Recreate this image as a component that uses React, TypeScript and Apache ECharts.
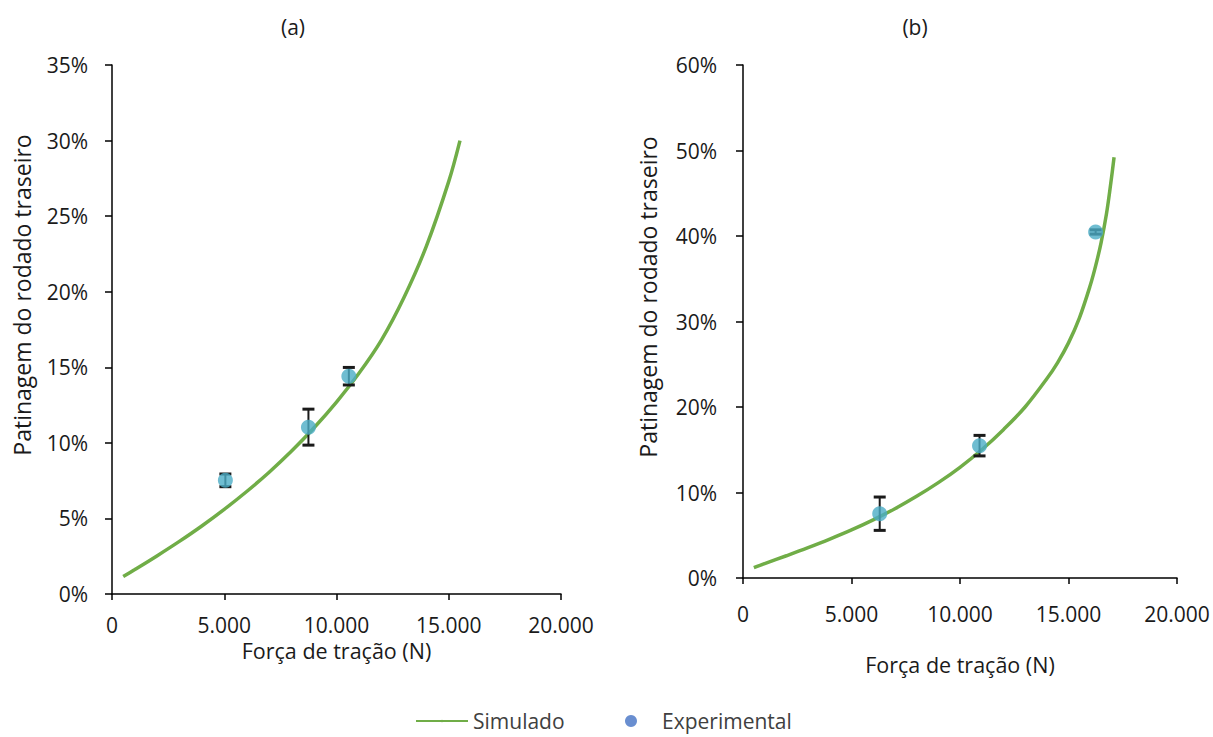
import React, { useEffect, useRef } from "react";
import * as echarts from "echarts";

// Panel (a)
const simXA = [500, 1000, 2000, 3000, 4000, 5000, 6000, 7000, 8000, 9000, 10000, 11000, 12000, 13000, 14000, 15000, 15500];
const simYA = [1.15, 1.6, 2.52, 3.48, 4.5, 5.6, 6.78, 8.06, 9.46, 11.0, 12.7, 14.6, 16.8, 19.6, 23.0, 27.3, 30.0];
const expXA = [5050, 8750, 10550];
const expYA = [7.52, 11.04, 14.41];
const errA = [0.42, 1.19, 0.58];

// Panel (b)
const simXB = [500, 1000, 2000, 3000, 4000, 5000, 6000, 7000, 8000, 9000, 10000, 11000, 12000, 13000, 14000, 14500, 15000, 15500, 16000, 16250, 16500, 16750, 16950, 17100];
const simYB = [1.2, 1.68, 2.6, 3.55, 4.55, 5.62, 6.8, 8.1, 9.55, 11.15, 12.95, 15.0, 17.35, 20.0, 23.3, 25.2, 27.5, 30.4, 34.2, 36.5, 39.2, 42.6, 46.2, 49.2];
const expXB = [6300, 10900, 16250];
const expYB = [7.52, 15.48, 40.47];
const errB = [1.95, 1.2, 0.25];

const FONT = "Open Sans";
const FS = 21;
const TXT = "#1a1a1a";
const GREEN = "#70AD47";
const MARK = "#4BACC6";
const LEGEND_MARK = "#4472C4";
const Y_TITLE = "Patinagem do rodado traseiro";

const fmtX = (v: number) => (v === 0 ? "0" : v.toLocaleString("de-DE"));

function makeErr(xs: number[], ys: number[], es: number[]) {
  return xs.map((x, i) => [x, ys[i] - es[i], ys[i] + es[i]]);
}

function errRender(params: any, api: any) {
  const x = api.value(0);
  const lo = api.coord([x, api.value(1)]);
  const hi = api.coord([x, api.value(2)]);
  const hw = 6;
  const st = { stroke: "#1a1a1a", lineWidth: 2 };
  const cap = { stroke: "#1a1a1a", lineWidth: 3 };
  return {
    type: "group",
    children: [
      { type: "line", shape: { x1: lo[0], y1: lo[1], x2: hi[0], y2: hi[1] }, style: st },
      { type: "line", shape: { x1: lo[0] - hw, y1: lo[1], x2: lo[0] + hw, y2: lo[1] }, style: cap },
      { type: "line", shape: { x1: hi[0] - hw, y1: hi[1], x2: hi[0] + hw, y2: hi[1] }, style: cap },
    ],
  };
}

function xAxisCfg(gridIndex: number, nameGap: number, labelMargin: number) {
  return {
    type: "value",
    gridIndex,
    min: 0,
    max: 20000,
    interval: 5000,
    name: "Força de tração (N)",
    nameLocation: "middle",
    nameGap,
    nameTextStyle: { fontFamily: FONT, fontSize: 21.5, color: TXT },
    axisLine: { show: true, lineStyle: { color: "#000", width: 1.5 } },
    axisTick: { show: true, inside: false, length: 6, lineStyle: { color: "#000", width: 1.5 } },
    axisLabel: { formatter: fmtX, fontFamily: FONT, fontSize: FS, color: TXT, margin: labelMargin },
    splitLine: { show: false },
  };
}

function yAxisCfg(gridIndex: number, max: number, interval: number, labelMargin: number) {
  return {
    type: "value",
    gridIndex,
    min: 0,
    max,
    interval,
    axisLine: { show: true, lineStyle: { color: "#000", width: 1.5 } },
    axisTick: { show: true, inside: false, length: 7, lineStyle: { color: "#000", width: 1.5 } },
    axisLabel: { formatter: (v: number) => `${v}%`, fontFamily: FONT, fontSize: FS, color: TXT, margin: labelMargin },
    splitLine: { show: false },
  };
}

function lineSeries(idx: number, data: number[][]) {
  return {
    name: "Simulado",
    type: "line",
    xAxisIndex: idx,
    yAxisIndex: idx,
    data,
    smooth: 0.35,
    symbol: "none",
    lineStyle: { color: GREEN, width: 3.5 },
    itemStyle: { color: GREEN },
    z: 1,
  };
}

function yTitle(x: number, y: number) {
  return {
    type: "text",
    x,
    y,
    rotation: Math.PI / 2,
    style: { text: Y_TITLE, font: `23px "${FONT}"`, fill: TXT, textAlign: "center", textVerticalAlign: "middle" },
  };
}

export default function App() {
  const ref = useRef<HTMLDivElement>(null);
  useEffect(() => {
    if (!ref.current) return;
    const chart = echarts.init(ref.current, undefined, { renderer: "svg" });
    const simA = simXA.map((x, i) => [x, simYA[i]]);
    const simB = simXB.map((x, i) => [x, simYB[i]]);
    const ptsA = expXA.map((x, i) => [x, expYA[i]]);
    const ptsB = expXB.map((x, i) => [x, expYB[i]]);
    chart.setOption({
      animation: false,
      backgroundColor: "#fff",
      textStyle: { fontFamily: FONT },
      grid: [
        { left: 112, top: 65, width: 449, height: 529 },
        { left: 743, top: 65, width: 434, height: 513 },
      ],
      xAxis: [xAxisCfg(0, 30, 20), xAxisCfg(1, 75, 25)],
      yAxis: [yAxisCfg(0, 35, 5, 24), yAxisCfg(1, 60, 10, 26)],
      graphic: [
        { type: "text", x: 293, y: 27, style: { text: "(a)", font: `${FS}px "${FONT}"`, fill: TXT, textAlign: "center", textVerticalAlign: "middle" } },
        { type: "text", x: 915, y: 27, style: { text: "(b)", font: `${FS}px "${FONT}"`, fill: TXT, textAlign: "center", textVerticalAlign: "middle" } },
        yTitle(22, 295),
        yTitle(648, 297),
      ],
      legend: [
        {
          data: ["Simulado"],
          left: 410,
          top: 705,
          itemWidth: 52,
          itemHeight: 3,
          itemGap: 0,
          textStyle: { fontFamily: FONT, fontSize: 21, lineHeight: 22, color: "#404040" },
        },
        {
          data: [{ name: "Experimental", icon: "circle", itemStyle: { color: LEGEND_MARK } }],
          left: 620,
          top: 705,
          itemWidth: 12,
          itemHeight: 12,
          itemGap: 0,
          textStyle: { fontFamily: FONT, fontSize: 21, lineHeight: 22, color: "#404040", padding: [0, 0, 0, 20] },
        },
      ],
      series: [
        lineSeries(0, simA),
        lineSeries(1, simB),
        {
          name: "errA",
          type: "custom",
          xAxisIndex: 0,
          yAxisIndex: 0,
          data: makeErr(expXA, expYA, errA),
          renderItem: errRender,
          encode: { x: 0, y: [1, 2] },
          z: 2,
        },
        {
          name: "errB",
          type: "custom",
          xAxisIndex: 1,
          yAxisIndex: 1,
          data: makeErr(expXB, expYB, errB),
          renderItem: errRender,
          encode: { x: 0, y: [1, 2] },
          z: 2,
        },
        {
          name: "Experimental",
          type: "scatter",
          xAxisIndex: 0,
          yAxisIndex: 0,
          data: ptsA,
          symbol: "circle",
          symbolSize: 15,
          itemStyle: { color: MARK },
          z: 3,
        },
        {
          name: "Experimental",
          type: "scatter",
          xAxisIndex: 1,
          yAxisIndex: 1,
          data: ptsB,
          symbol: "circle",
          symbolSize: 15,
          itemStyle: { color: MARK },
          z: 3,
        },
      ],
    });
    return () => chart.dispose();
  }, []);
  return <div ref={ref} style={{ position: "fixed", left: 0, top: 0, width: 1213, height: 737 }} />;
}
